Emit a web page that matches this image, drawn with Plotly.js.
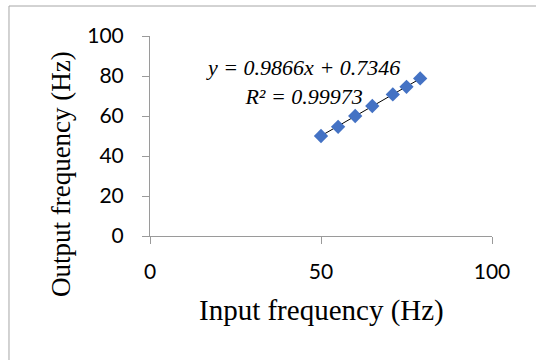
<!DOCTYPE html>
<html>
<head>
<meta charset="utf-8">
<script src="https://cdn.plot.ly/plotly-3.0.1.min.js"></script>
<style>html,body{margin:0;padding:0;background:#fff;}#chart{width:536px;height:360px;}</style>
</head>
<body>
<div id="chart"></div>
<script>
const inputFreq = [50, 55, 60, 65, 71, 75, 79];
const outputFreq = [50, 54.6, 60, 65, 70.8, 74.6, 78.8];
const fitCoef = [0.9866, 0.7346];
const fitR2 = 0.99973;
const xTicks = [0, 50, 100];
const yTicks = [0, 20, 40, 60, 80, 100];

const xMin = Math.min(...inputFreq), xMax = Math.max(...inputFreq);
const trendX = [xMin, xMax];
const trendY = trendX.map(v => fitCoef[0] * v + fitCoef[1]);

const axisColor = '#9a9a9a';
const serif = '"Liberation Serif", "Times New Roman", serif';
const data = [
  {x: trendX, y: trendY, mode: 'lines', line: {color: '#000', width: 1}, hoverinfo: 'skip', showlegend: false},
  {x: inputFreq, y: outputFreq, mode: 'markers', marker: {symbol: 'diamond', size: 11, color: '#4472C4'}, showlegend: false}
];
const layout = {
  width: 536, height: 360,
  margin: {l: 150, r: 44, t: 36, b: 124},
  paper_bgcolor: '#fff', plot_bgcolor: '#fff',
  xaxis: {range: [0, 100], tickvals: xTicks, ticktext: xTicks.map(String), showgrid: false, zeroline: false,
    showline: true, linecolor: axisColor, linewidth: 1, ticks: 'outside', ticklen: 7, tickcolor: axisColor,
    tickfont: {family: 'Lato, sans-serif', size: 21, color: '#000'}, ticklabelstandoff: 10, fixedrange: true},
  yaxis: {range: [0, 100], tickvals: yTicks, ticktext: yTicks.map(String), showgrid: false, zeroline: false,
    showline: true, linecolor: axisColor, linewidth: 1, ticks: 'outside', ticklen: 7, tickcolor: axisColor,
    tickfont: {family: 'Lato, sans-serif', size: 21, color: '#000'}, ticklabelstandoff: 14, fixedrange: true},
  shapes: [
    {type: 'rect', xref: 'paper', yref: 'paper', x0: -0.4123, x1: 1.3, y0: -0.8, y1: 1.15,
     line: {color: '#a6a6a6', width: 1}, fillcolor: 'rgba(0,0,0,0)', layer: 'below'}
  ],
  annotations: [
    {xref: 'paper', yref: 'paper', x: 0.5, y: -0.37, text: 'Input frequency (Hz)', showarrow: false,
     xanchor: 'center', yanchor: 'middle', font: {family: serif, size: 29, color: '#000'}},
    {xref: 'paper', yref: 'paper', x: -0.26, y: 0.31, text: 'Output frequency (Hz)', showarrow: false, textangle: -90,
     xanchor: 'center', yanchor: 'middle', font: {family: serif, size: 27, color: '#000'}},
    {xref: 'paper', yref: 'paper', x: (302.5 - 150) / 342, y: (236 - 82) / 200,
     text: '<i>y = ' + fitCoef[0] + 'x + ' + fitCoef[1] + '</i><br><i>R² = ' + fitR2 + '</i>', showarrow: false,
     xanchor: 'center', yanchor: 'middle', align: 'center',
     font: {family: serif, size: 22, color: '#000'}}
  ]
};
Plotly.newPlot('chart', data, layout, {displayModeBar: false, staticPlot: true});
</script>
</body>
</html>
